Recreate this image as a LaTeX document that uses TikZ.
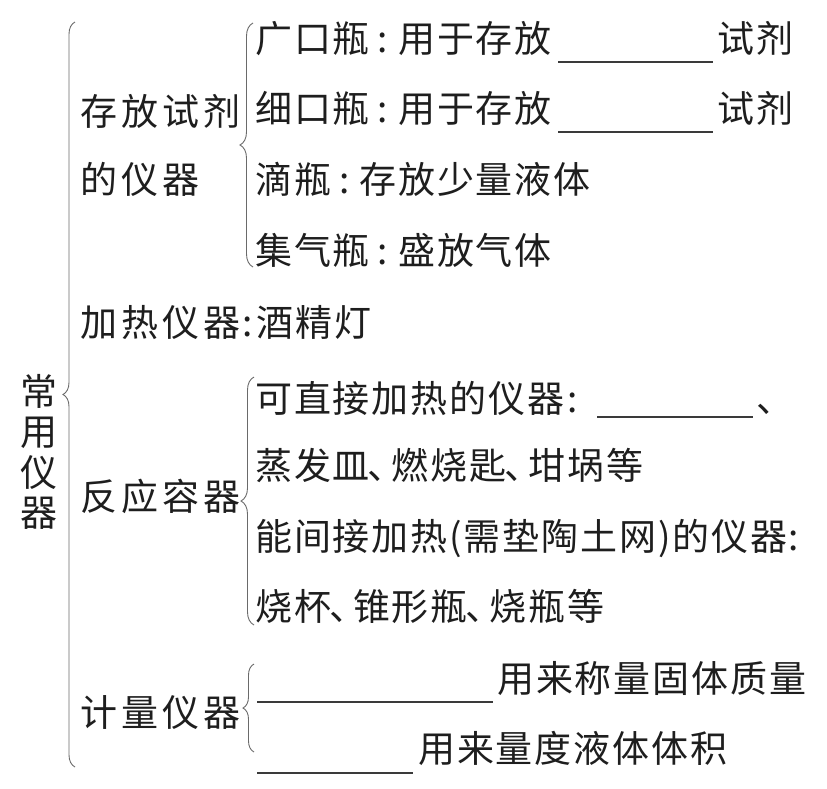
\documentclass[tikz,border=0pt]{standalone}
\usepackage{fontspec}
\setmainfont{Noto Sans CJK SC}
\usetikzlibrary{decorations.pathreplacing}
\definecolor{ink}{HTML}{1E1E1E}
\definecolor{bracec}{HTML}{6A6A6A}
\definecolor{linec}{HTML}{3A3A3A}
\newcommand\colW{\kern8pt:\kern10pt}
\newcommand\dunh{\kern-2pt、\kern-13pt}
\tikzset{
  itemtxt/.style={inner sep=0pt, anchor=base west, text=ink,
    font=\fontsize{37pt}{40pt}\selectfont\addfontfeatures{LetterSpace=5}},
  lbltxt/.style={inner sep=0pt, anchor=base west, text=ink,
    font=\fontsize{37pt}{40pt}\selectfont\addfontfeatures{LetterSpace=11}},
  vtxt/.style={inner sep=0pt, text=ink, align=center,
    font=\fontsize{37pt}{40.5pt}\selectfont},
  bracedeco/.style={draw=bracec, line width=0.9pt, decorate,
    decoration={brace, amplitude=#1}},
  blank/.style={draw=linec, line width=1.1pt}
}
\begin{document}
\begin{tikzpicture}[x=1pt,y=-1pt]
\useasboundingbox (0,0) rectangle (827,788);

% root label
\node[vtxt] (root) at (39,452) {常\\用\\仪\\器};

% main brace
\coordinate (b0t) at (75,22);
\coordinate (b0b) at (75,767);
\draw[bracedeco=12pt] (b0b) -- (b0t);

% group 1
\node[lbltxt] (g1a) at (80,125) {存放试剂};
\node[lbltxt] (g1b) at (80,193) {的仪器};
\coordinate (b1t) at (253,23);
\coordinate (b1b) at (253,267);
\draw[bracedeco=13pt] (b1b) -- (b1t);

\node[itemtxt] (r1) at (255,52) {广口瓶\colW 用于存放};
\coordinate (u1a) at (558,62); \coordinate (u1b) at (713,62);
\draw[blank] (u1a) -- (u1b);
\node[itemtxt] (r1b) at (717,52) {试剂};

\node[itemtxt] (r2) at (255,122) {细口瓶\colW 用于存放};
\coordinate (u2a) at (558,132); \coordinate (u2b) at (713,132);
\draw[blank] (u2a) -- (u2b);
\node[itemtxt] (r2b) at (717,122) {试剂};

\node[itemtxt] (r3) at (255,193) {滴瓶\colW 存放少量液体};
\node[itemtxt] (r4) at (255,264) {集气瓶\colW 盛放气体};

% group 2
\node[lbltxt] (g2) at (80,336) {加热仪器};
\node[itemtxt] (g2b) at (242,336) {:\kern4pt 酒精灯};

% group 3
\node[lbltxt] (g3) at (80,510) {反应容器};
\coordinate (b3t) at (254,377);
\coordinate (b3b) at (254,625);
\draw[bracedeco=13pt] (b3b) -- (b3t);

\node[itemtxt] (r5) at (255,412) {可直接加热的仪器\kern3pt:};
\coordinate (u5a) at (597,417); \coordinate (u5b) at (753,417);
\draw[blank] (u5a) -- (u5b);
\node[itemtxt] (r5b) at (756,412) {、};
\node[itemtxt] (r6) at (255,479) {蒸发皿\dunh 燃烧匙\dunh 坩埚等};
\node[itemtxt] (r7) at (255,550) {能间接加热(需垫陶土网)的仪器:};
\node[itemtxt] (r8) at (255,620) {烧杯\dunh 锥形瓶\dunh 烧瓶等};

% group 4
\node[lbltxt] (g4) at (80,726) {计量仪器};
\coordinate (b4t) at (254,664);
\coordinate (b4b) at (254,752);
\draw[bracedeco=11pt] (b4b) -- (b4t);

\coordinate (u9a) at (257,702); \coordinate (u9b) at (493,702);
\draw[blank] (u9a) -- (u9b);
\node[itemtxt] (r9) at (497,692) {用来称量固体质量};
\coordinate (u10a) at (257,773); \coordinate (u10b) at (413,773);
\draw[blank] (u10a) -- (u10b);
\node[itemtxt] (r10) at (418,762) {用来量度液体体积};
\end{tikzpicture}
\end{document}
